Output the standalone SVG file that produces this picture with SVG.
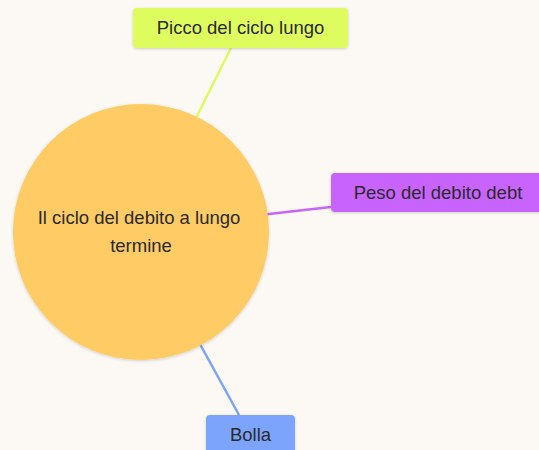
<svg xmlns="http://www.w3.org/2000/svg" width="539" height="450" viewBox="0 0 539 450">
<defs>
<filter id="sh" x="-20%" y="-30%" width="140%" height="170%">
<feDropShadow dx="0" dy="1" stdDeviation="1.5" flood-color="#000" flood-opacity="0.18"/>
</filter>
</defs>
<style>
text{font-family:"Liberation Sans",Arial,sans-serif;fill:#2a2a2a;text-anchor:middle}
.lbl{font-size:18.5px}
.edge{fill:none;stroke-width:2.5}
</style>
<rect width="539" height="450" fill="#fcf9f5"/>
<g id="connectors">
<line class="edge" x1="231" y1="48" x2="190" y2="130" stroke="#dffc5f"/>
<line class="edge" x1="331" y1="207" x2="260" y2="215" stroke="#c964fd"/>
<line class="edge" x1="239" y1="415" x2="195" y2="335" stroke="#7ba4fd"/>
</g>
<g id="center">
<circle cx="141" cy="232" r="128" fill="#fecb65" filter="url(#sh)"/>
<text x="139" y="224" font-size="18.5">Il ciclo del debito a lungo</text>
<text x="141" y="252" font-size="18.5">termine</text>
</g>
<g id="picco">
<rect x="133" y="8" width="215" height="40" rx="4" fill="#dffc5f" filter="url(#sh)"/>
<text class="lbl" x="240.5" y="34">Picco del ciclo lungo</text>
</g>
<g id="peso">
<rect x="331" y="173" width="215" height="39" rx="4" fill="#c964fd" filter="url(#sh)"/>
<text class="lbl" x="438" y="199">Peso del debito debt</text>
</g>
<g id="bolla">
<rect x="206" y="415" width="89" height="45" rx="4" fill="#7ba4fd" filter="url(#sh)"/>
<text class="lbl" x="250.5" y="441">Bolla</text>
</g>
</svg>
